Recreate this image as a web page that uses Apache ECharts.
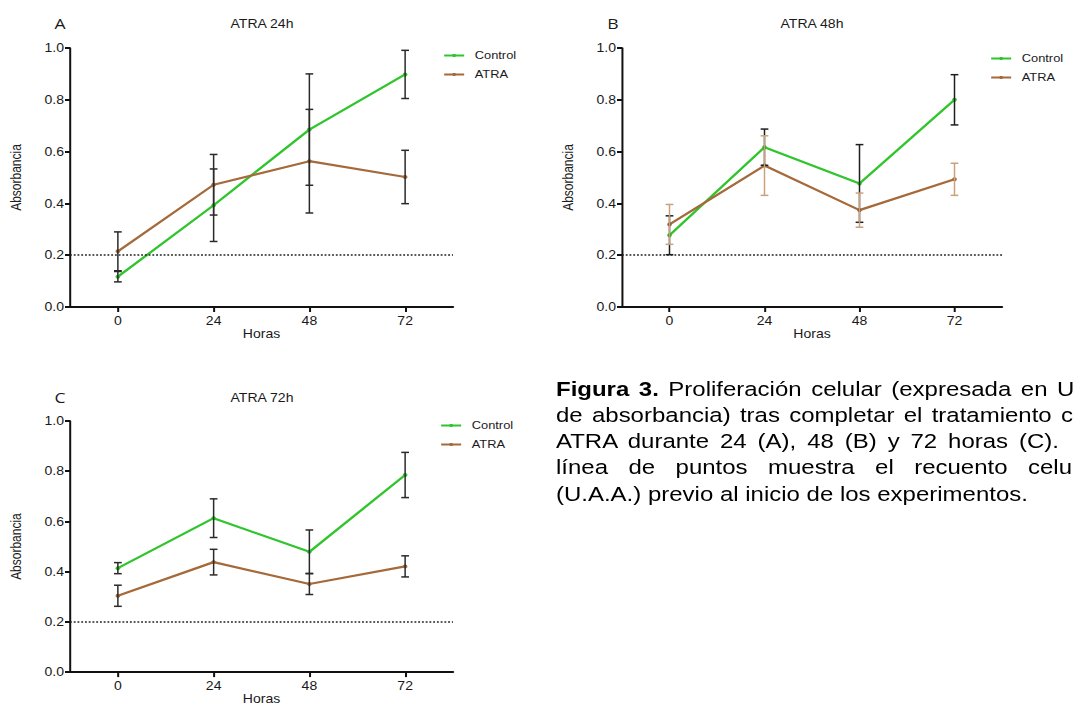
<!DOCTYPE html>
<html>
<head>
<meta charset="utf-8">
<script src="https://cdn.jsdelivr.net/npm/echarts@6/dist/echarts.min.js"></script>
<style>
html,body{margin:0;padding:0;background:#fff;overflow:hidden;width:1074px;height:706px;}
#stage{position:absolute;left:0;top:0;height:706px;transform-origin:0 0;}
#chart{position:absolute;left:0;top:0;height:706px;}
#cap{position:absolute;font-family:"Liberation Sans",Arial,sans-serif;font-size:20.5px;line-height:26.3px;color:#000;white-space:nowrap;}
#cap div{white-space:nowrap;}
</style>
</head>
<body>
<div id="stage"><div id="chart"></div><div id="cap"></div></div>
<script>
// ---- data ----
const hours = [0, 24, 48, 72];
const xTicks = [0, 24, 48, 72];
const baseline = 0.2;
const seriesNames = ['Control', 'ATRA'];
const panelLetters = ['A', 'B', 'C'];
const panelTitles = ['ATRA 24h', 'ATRA 48h', 'ATRA 72h'];
const xName = 'Horas';
const yName = 'Absorbancia';

const ctrlA = [0.117, 0.393, 0.685, 0.898];
const ctrlAerr = [0.02, 0.14, 0.215, 0.093];
const atraA = [0.215, 0.472, 0.563, 0.502];
const atraAerr = [0.075, 0.117, 0.2, 0.103];

const ctrlB = [0.277, 0.617, 0.477, 0.800];
const ctrlBerr = [0.075, 0.07, 0.15, 0.097];
const atraB = [0.319, 0.546, 0.374, 0.493];
const atraBerr = [0.077, 0.115, 0.066, 0.062];

const ctrlC = [0.414, 0.613, 0.479, 0.785];
const ctrlCerr = [0.022, 0.077, 0.087, 0.09];
const atraC = [0.304, 0.438, 0.351, 0.421];
const atraCerr = [0.042, 0.051, 0.042, 0.042];

// caption as visible in the source (its right edge is cropped there)
const captionLines = [
  {html: '<b>Figura 3.</b> Proliferación celular (expresada en ', last: 'U', target: 1057},
  {html: 'de absorbancia) tras completar el tratamiento ', last: 'c', target: 1061},
  {html: 'ATRA durante 24 (A), 48 (B) y 72 horas (C).', last: '', target: 1059},
  {html: 'línea de puntos muestra el recuento ', last: 'celu', target: 1028},
  {html: '(U.A.A.) previo al inicio de los experimentos.', last: '', target: null}
];

// ---- layout / styles (page pixels; the figure is horizontally stretched like the source) ----
const S = 1.17;
const W = 1074 / S;
const GREEN = '#30c52c';
const BROWN = '#a5693a';
const AX = '#111';
const TXT = '#1a1a1a';
const FONT = '"Liberation Sans", Arial, sans-serif';
const ux = v => v / S;

document.getElementById('stage').style.width = W + 'px';
document.getElementById('stage').style.transform = 'scaleX(' + S + ')';
document.getElementById('chart').style.width = W + 'px';

const panels = [
  {grid: {left: ux(70), top: 48, width: ux(383), height: 259}, ctrl: ctrlA, ctrlErr: ctrlAerr, atra: atraA, atraErr: atraAerr,
   errColors: ['#2a2a2a', '#2a2a2a'], letter: [60, 23], title: [262, 24], legend: {left: 443, top: 50}},
  {grid: {left: ux(622), top: 48, width: ux(380), height: 259}, ctrl: ctrlB, ctrlErr: ctrlBerr, atra: atraB, atraErr: atraBerr,
   errColors: ['#1e1e1e', '#c9a27c'], letter: [613, 23], title: [812, 24], legend: {left: 990, top: 53}},
  {grid: {left: ux(70), top: 421, width: ux(383), height: 260}, ctrl: ctrlC, ctrlErr: ctrlCerr, atra: atraC, atraErr: atraCerr,
   errColors: ['#2a2a2a', '#2a2a2a'], letter: [60, 397], title: [262, 398], legend: {left: 440, top: 420}}
];

function errBars(idx, vals, errs, color) {
  return {
    type: 'custom', xAxisIndex: idx, yAxisIndex: idx, z: 5, silent: true,
    encode: {x: 0, y: [1, 2]},
    data: hours.map((h, i) => [h, vals[i] - errs[i], vals[i] + errs[i]]),
    renderItem: function (params, api) {
      const x = api.value(0);
      const p1 = api.coord([x, api.value(2)]);
      const p2 = api.coord([x, api.value(1)]);
      const w = 3.3;
      const st = {stroke: color, lineWidth: 1.5};
      const sv = {stroke: color, lineWidth: 1.5 / S};
      return {type: 'group', children: [
        {type: 'line', shape: {x1: p1[0], y1: p1[1], x2: p2[0], y2: p2[1]}, style: sv},
        {type: 'line', shape: {x1: p1[0] - w, y1: p1[1], x2: p1[0] + w, y2: p1[1]}, style: st},
        {type: 'line', shape: {x1: p2[0] - w, y1: p2[1], x2: p2[0] + w, y2: p2[1]}, style: st}
      ]};
    }
  };
}

const grids = [], xAxes = [], yAxes = [], series = [], legends = [], graphics = [];
panels.forEach((p, i) => {
  grids.push(p.grid);
  xAxes.push({
    type: 'value', gridIndex: i, min: -12, max: 84,
    name: xName, nameLocation: 'middle', nameGap: 16,
    nameTextStyle: {fontSize: 12, fontFamily: FONT, color: TXT},
    axisLine: {show: true, onZero: false, lineStyle: {color: AX, width: 2}},
    axisTick: {show: true, length: 5, lineStyle: {color: AX, width: 2 / S}, customValues: xTicks},
    axisLabel: {fontSize: 12, fontFamily: FONT, color: TXT, margin: 8, customValues: xTicks},
    splitLine: {show: false}
  });
  yAxes.push({
    type: 'value', gridIndex: i, min: 0, max: 1, interval: 0.2,
    name: yName, nameLocation: 'middle', nameGap: ux(47), nameRotate: 90,
    nameTextStyle: {fontSize: 12, fontFamily: FONT, color: TXT},
    axisLine: {show: true, onZero: false, lineStyle: {color: AX, width: 2 / S}},
    axisTick: {show: true, length: ux(5), lineStyle: {color: AX, width: 2}},
    axisLabel: {fontSize: 12, fontFamily: FONT, color: TXT, margin: ux(6),
      formatter: v => v.toFixed(1)},
    splitLine: {show: false}
  });
  series.push({
    name: seriesNames[0], type: 'line', xAxisIndex: i, yAxisIndex: i, z: 3,
    data: hours.map((h, k) => [h, p.ctrl[k]]),
    symbol: 'circle', symbolSize: 4, color: GREEN,
    lineStyle: {width: 2.2, color: GREEN}, itemStyle: {color: GREEN},
    markLine: {silent: true, symbol: 'none', label: {show: false},
      lineStyle: {type: 'dotted', color: '#222', width: 1.6},
      data: [{yAxis: baseline}]}
  });
  series.push({
    name: seriesNames[1], type: 'line', xAxisIndex: i, yAxisIndex: i, z: 3,
    data: hours.map((h, k) => [h, p.atra[k]]),
    symbol: 'circle', symbolSize: 4, color: BROWN,
    lineStyle: {width: 2.2, color: BROWN}, itemStyle: {color: BROWN}
  });
  series.push(errBars(i, p.ctrl, p.ctrlErr, p.errColors[0]));
  series.push(errBars(i, p.atra, p.atraErr, p.errColors[1]));
  legends.push({
    data: seriesNames, orient: 'vertical', left: ux(p.legend.left), top: p.legend.top,
    padding: 0, itemWidth: ux(20), itemHeight: 4, itemGap: 8, selectedMode: false,
    textStyle: {fontSize: 11, fontFamily: FONT, color: TXT, padding: [0, 0, 0, 4]}
  });
  graphics.push({type: 'text', x: ux(p.letter[0]), y: p.letter[1],
    style: {text: panelLetters[i], align: 'center', verticalAlign: 'middle', textAlign: 'center', textVerticalAlign: 'middle',
      font: '15px "Open Sans", sans-serif', fill: TXT}});
  graphics.push({type: 'text', x: ux(p.title[0]), y: p.title[1],
    style: {text: panelTitles[i], align: 'center', verticalAlign: 'middle', textAlign: 'center', textVerticalAlign: 'middle',
      font: '12px ' + FONT, fill: TXT}});
});

const chart = echarts.init(document.getElementById('chart'), null, {renderer: 'svg', width: W, height: 706});
chart.setOption({
  backgroundColor: '#fff',
  animation: false,
  grid: grids, xAxis: xAxes, yAxis: yAxes, series: series, legend: legends, graphic: graphics
});

// caption (justified-looking word spacing)
const cap = document.getElementById('cap');
const capLeft = 556;
cap.style.left = ux(capLeft) + 'px';
cap.style.top = '375.5px';
captionLines.forEach(l => {
  const d = document.createElement('div');
  const pre = document.createElement('span');
  pre.innerHTML = l.html;
  d.appendChild(pre);
  if (l.last) { const s = document.createElement('span'); s.textContent = l.last; d.appendChild(s); }
  cap.appendChild(d);
  if (l.target) {
    const w0 = pre.getBoundingClientRect().width / S;
    const txt = pre.textContent;
    const spaces = l.last ? (txt.match(/ /g) || []).length : (txt.trim().match(/ /g) || []).length;
    const ws = (ux(l.target - capLeft) - w0) / spaces;
    d.style.wordSpacing = ws + 'px';
  }
});
</script>
</body>
</html>
